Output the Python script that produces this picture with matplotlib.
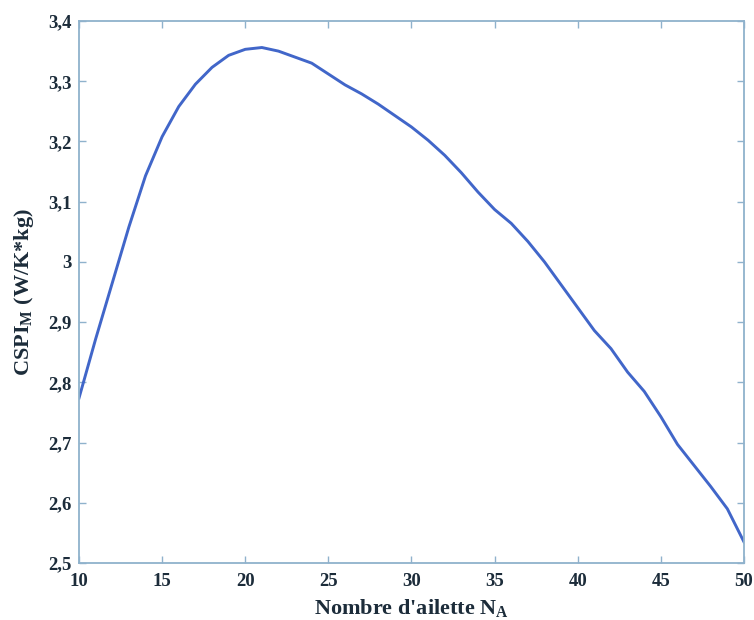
#!/usr/bin/env python3
"""CSPI_M versus number of fins N_A (single curve, MATLAB-style axes)."""

import matplotlib
matplotlib.use("Agg")
import matplotlib.pyplot as plt
from matplotlib.ticker import FuncFormatter, MultipleLocator


# -------- Data ------------------------------------------------------------ #

N_FINS = list(range(10, 51))
CSPI_M = [
    2.774, 2.872, 2.965, 3.058, 3.143, 3.208, 3.258, 3.295, 3.323, 3.343,
    3.353, 3.356, 3.350, 3.340, 3.330, 3.312, 3.294, 3.279, 3.262, 3.243,
    3.224, 3.202, 3.177, 3.148, 3.116, 3.087, 3.064, 3.034, 3.000, 2.962,
    2.924, 2.886, 2.856, 2.817, 2.785, 2.743, 2.697, 2.662, 2.627, 2.590,
    2.535,
]

X_LIM = (10, 50)
Y_LIM = (2.5, 3.4)

LINE_COLOR = "#4166c9"
SPINE_COLOR = "#8fb2cc"
TEXT_COLOR = "#1c2c3a"


def comma(v, _pos):
    return f"{v:g}".replace(".", ",")


def main() -> None:
    plt.rcParams.update({
        "font.family": ["Liberation Serif", "DejaVu Serif"],
        "font.weight": "bold",
        "mathtext.fontset": "custom",
        "mathtext.rm": "Liberation Serif:bold",
        "mathtext.it": "Liberation Serif:bold",
        "mathtext.bf": "Liberation Serif:bold",
    })

    fig = plt.figure(figsize=(7.54, 6.2), dpi=100)
    ax = fig.add_axes([0.1048, 0.0919, 0.8819, 0.8742])

    ax.plot(N_FINS, CSPI_M, color=LINE_COLOR, linewidth=2.1,
            solid_joinstyle="round")

    ax.set_xlim(*X_LIM)
    ax.set_ylim(*Y_LIM)
    ax.xaxis.set_major_locator(MultipleLocator(5))
    ax.yaxis.set_major_locator(MultipleLocator(0.1))
    ax.yaxis.set_major_formatter(FuncFormatter(comma))

    for sp in ax.spines.values():
        sp.set_color(SPINE_COLOR)
        sp.set_linewidth(1.3)
    ax.tick_params(direction="in", length=5, width=1.0, color=SPINE_COLOR,
                   top=True, right=True, labelsize=13.5, labelcolor=TEXT_COLOR)
    ax.tick_params(axis="x", pad=7)
    ax.tick_params(axis="y", pad=5)
    for lab in ax.get_xticklabels() + ax.get_yticklabels():
        lab.set_fontweight("bold")

    ax.set_xlabel(r"Nombre d'ailette N$_{\mathrm{A}}$", fontsize=16,
                  fontweight="bold", color=TEXT_COLOR)
    ax.xaxis.set_label_coords(0.5, -0.062)
    ax.set_ylabel(r"CSPI$_{\mathrm{M}}$ (W/K*kg)", fontsize=16,
                  fontweight="bold", color=TEXT_COLOR)
    ax.yaxis.set_label_coords(-0.064, 0.5)

    fig.savefig("out.png", dpi=100)


if __name__ == "__main__":
    main()
